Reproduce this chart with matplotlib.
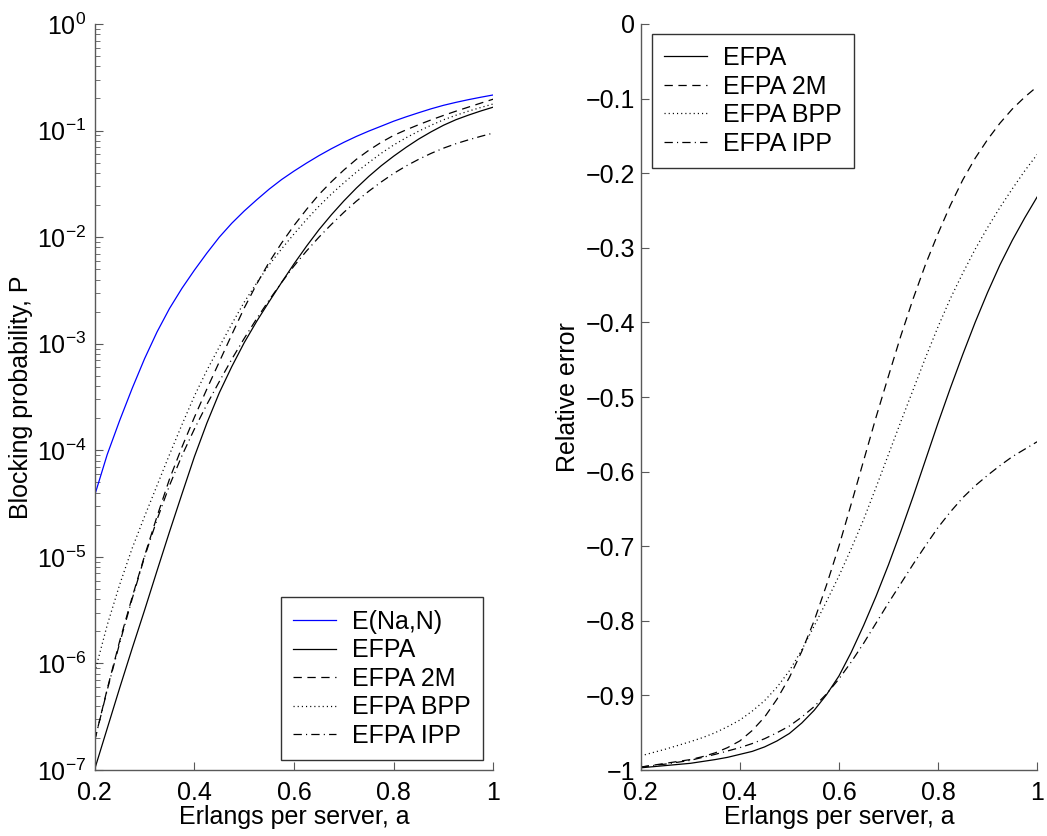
import matplotlib
matplotlib.use("Agg")
import matplotlib.pyplot as plt
from matplotlib.ticker import NullFormatter, FixedLocator

plt.rcParams['font.family'] = ['Liberation Sans', 'DejaVu Sans']
plt.rcParams['font.size'] = 18
plt.rcParams['mathtext.fontset'] = 'custom'
plt.rcParams['mathtext.rm'] = 'Liberation Sans'
plt.rcParams['mathtext.it'] = 'Liberation Sans:italic'
plt.rcParams['mathtext.default'] = 'regular'
plt.rcParams['lines.scale_dashes'] = False

# erlangs per server
a = [0.2, 0.225, 0.25, 0.275, 0.3, 0.325, 0.35, 0.375, 0.4, 0.425, 0.45,
     0.475, 0.5, 0.525, 0.55, 0.575, 0.6, 0.625, 0.65, 0.675, 0.7, 0.725,
     0.75, 0.775, 0.8, 0.825, 0.85, 0.875, 0.9, 0.925, 0.95, 0.975, 1.0]

# blocking probabilities (left panel)
p_erlang = [3.80e-5, 9.12e-5, 1.905e-4, 3.80e-4, 7.24e-4, 1.29e-3, 2.14e-3, 3.31e-3, 4.90e-3,
            7.08e-3, 1.00e-2, 1.35e-2, 1.76e-2, 2.24e-2, 2.82e-2, 3.47e-2, 4.17e-2, 4.95e-2,
            5.82e-2, 6.76e-2, 7.76e-2, 8.81e-2, 9.89e-2, 0.110, 0.1225, 0.1346, 0.147,
            0.160, 0.1726, 0.184, 0.195, 0.2056, 0.216]
p_efpa = [1.023e-7, 2.455e-7, 5.888e-7, 1.380e-6, 3.162e-6, 7.413e-6, 1.718e-5, 3.890e-5,
          8.710e-5, 1.799e-4, 3.467e-4, 6.095e-4, 1.023e-3, 1.622e-3, 2.483e-3, 3.758e-3,
          5.623e-3, 8.222e-3, 1.175e-2, 1.622e-2, 2.188e-2, 2.884e-2, 3.715e-2, 4.677e-2,
          5.754e-2, 6.966e-2, 8.318e-2, 9.727e-2, 0.1122, 0.1265, 0.1396, 0.1528, 0.1660]
p_2m = [1.905e-7, 5.754e-7, 1.622e-6, 4.169e-6, 1.023e-5, 2.399e-5, 5.370e-5, 1.072e-4,
        2.042e-4, 3.758e-4, 6.761e-4, 1.216e-3, 2.163e-3, 3.631e-3, 5.821e-3, 8.810e-3,
        1.288e-2, 1.820e-2, 2.512e-2, 3.311e-2, 4.266e-2, 5.370e-2, 6.531e-2, 7.762e-2,
        9.016e-2, 0.1016, 0.1135, 0.1259, 0.1387, 0.1521, 0.1660, 0.1811, 0.1972]
p_bpp = [8.318e-7, 2.291e-6, 5.495e-6, 1.202e-5, 2.399e-5, 4.677e-5, 9.120e-5, 1.738e-4,
         3.236e-4, 5.623e-4, 9.333e-4, 1.531e-3, 2.455e-3, 3.715e-3, 5.495e-3, 7.762e-3,
         1.072e-2, 1.462e-2, 1.950e-2, 2.541e-2, 3.236e-2, 4.074e-2, 5.012e-2, 6.124e-2,
         7.328e-2, 8.570e-2, 9.863e-2, 0.1122, 0.1262, 0.1393, 0.1521, 0.1648, 0.1778]
p_ipp = [1.905e-7, 5.623e-7, 1.549e-6, 4.027e-6, 1.000e-5, 2.239e-5, 4.677e-5, 8.913e-5,
         1.585e-4, 2.692e-4, 4.416e-4, 7.161e-4, 1.122e-3, 1.718e-3, 2.570e-3, 3.758e-3,
         5.370e-3, 7.413e-3, 1.000e-2, 1.318e-2, 1.710e-2, 2.173e-2, 2.698e-2, 3.296e-2,
         3.963e-2, 4.656e-2, 5.370e-2, 6.109e-2, 6.839e-2, 7.534e-2, 8.185e-2, 8.831e-2, 9.484e-2]

# relative errors (right panel)
rel_efpa = [-0.997, -0.9955, -0.994, -0.9925, -0.991, -0.9885, -0.986, -0.983, -0.979,
            -0.975, -0.969, -0.961, -0.951, -0.937, -0.920, -0.899, -0.874, -0.842,
            -0.806, -0.767, -0.725, -0.680, -0.633, -0.584, -0.535, -0.488, -0.443,
            -0.400, -0.360, -0.323, -0.290, -0.260, -0.232]
rel_2m = [-0.996, -0.9935, -0.991, -0.9885, -0.986, -0.982, -0.977, -0.970, -0.961,
          -0.947, -0.929, -0.905, -0.876, -0.841, -0.800, -0.752, -0.700, -0.643,
          -0.585, -0.527, -0.472, -0.418, -0.368, -0.322, -0.281, -0.243, -0.209,
          -0.180, -0.155, -0.133, -0.114, -0.098, -0.084]
rel_bpp = [-0.981, -0.9765, -0.972, -0.967, -0.962, -0.9565, -0.950, -0.942, -0.933,
           -0.921, -0.907, -0.889, -0.867, -0.839, -0.807, -0.774, -0.740, -0.703,
           -0.664, -0.621, -0.577, -0.533, -0.490, -0.447, -0.406, -0.368, -0.334,
           -0.302, -0.273, -0.246, -0.221, -0.197, -0.175]
rel_ipp = [-0.996, -0.994, -0.992, -0.9895, -0.987, -0.983, -0.979, -0.9745, -0.970,
           -0.9645, -0.958, -0.950, -0.941, -0.929, -0.915, -0.898, -0.878, -0.855,
           -0.830, -0.803, -0.776, -0.750, -0.724, -0.699, -0.675, -0.654, -0.635,
           -0.619, -0.605, -0.592, -0.580, -0.570, -0.560]

x_ticks = [0.2, 0.4, 0.6, 0.8, 1.0]
x_labels = ['0.2', '0.4', '0.6', '0.8', '1']
p_ticks = [1e-7, 1e-6, 1e-5, 1e-4, 1e-3, 1e-2, 1e-1, 1e0]
p_labels = [r'$10^{-7}$', r'$10^{-6}$', r'$10^{-5}$', r'$10^{-4}$', r'$10^{-3}$',
            r'$10^{-2}$', r'$10^{-1}$', r'$10^{0}$']
rel_ticks = [0, -0.1, -0.2, -0.3, -0.4, -0.5, -0.6, -0.7, -0.8, -0.9, -1]
rel_labels = ['0', '\u22120.1', '\u22120.2', '\u22120.3', '\u22120.4', '\u22120.5',
              '\u22120.6', '\u22120.7', '\u22120.8', '\u22120.9', '\u22121']

# minor log ticks 2..9 inside each decade
p_minor = [m * d for d in p_ticks[:-1] for m in range(2, 10)]

lw = 0.9
dash = (0, (6, 4))
dot = (0, (0.8, 2.2))
dashdot = (0, (6, 3, 0.8, 3))

fig = plt.figure(figsize=(10.47, 8.36), dpi=100)
ax1 = fig.add_axes([0.0905, 0.0789, 0.3807, 0.8924])
ax2 = fig.add_axes([0.612, 0.0789, 0.3785, 0.8924])

def style(ax, ypad):
    for s in ['top', 'right']:
        ax.spines[s].set_visible(False)
    for s in ['left', 'bottom']:
        ax.spines[s].set_color('0.35')
        ax.spines[s].set_linewidth(1.0)
    ax.tick_params(which='both', direction='in', color='0.35', labelsize=18)
    ax.tick_params(axis='x', pad=8)
    ax.tick_params(axis='y', pad=ypad)
    ax.tick_params(which='major', length=6)
    ax.tick_params(which='minor', length=3.5)
    ax.xaxis.set_label_coords(0.5, -0.0465)
    ax.yaxis.set_label_coords(-0.154, 0.5)

legend_kw = dict(fontsize=18, frameon=True, fancybox=False, edgecolor='black',
                 handlelength=1.7, handletextpad=0.65, labelspacing=0.18,
                 borderpad=0.5, borderaxespad=0)

# left: blocking probability
ax1.plot(a, p_erlang, color='blue', lw=lw, label='E(Na,N)')
ax1.plot(a, p_efpa, color='black', lw=lw, label='EFPA')
ax1.plot(a, p_2m, color='black', lw=lw, linestyle=dash, label='EFPA 2M')
ax1.plot(a, p_bpp, color='black', lw=lw, linestyle=dot, label='EFPA BPP')
ax1.plot(a, p_ipp, color='black', lw=lw, linestyle=dashdot, label='EFPA IPP')
ax1.set_yscale('log')
ax1.set_xlim(0.2, 1)
ax1.set_ylim(1e-7, 1)
ax1.yaxis.set_major_locator(FixedLocator(p_ticks))
ax1.set_yticklabels(p_labels)
ax1.yaxis.set_minor_locator(FixedLocator(p_minor))
ax1.yaxis.set_minor_formatter(NullFormatter())
ax1.set_xticks(x_ticks)
ax1.set_xticklabels(x_labels)
ax1.set_xlabel('Erlangs per server, a', fontsize=18)
ax1.set_ylabel('Blocking probability, P', fontsize=18)
style(ax1, 6)
leg1 = ax1.legend(loc='lower right', bbox_to_anchor=(0.975, 0.013), **legend_kw)
leg1.get_frame().set_linewidth(1.0)

# right: relative error
ax2.plot(a, rel_efpa, color='black', lw=lw, label='EFPA')
ax2.plot(a, rel_2m, color='black', lw=lw, linestyle=dash, label='EFPA 2M')
ax2.plot(a, rel_bpp, color='black', lw=lw, linestyle=dot, label='EFPA BPP')
ax2.plot(a, rel_ipp, color='black', lw=lw, linestyle=dashdot, label='EFPA IPP')
ax2.set_xlim(0.2, 1)
ax2.set_ylim(-1, 0)
ax2.set_xticks(x_ticks)
ax2.set_xticklabels(x_labels)
ax2.yaxis.set_major_locator(FixedLocator(rel_ticks))
ax2.set_yticklabels(rel_labels)
ax2.set_xlabel('Erlangs per server, a', fontsize=18)
ax2.set_ylabel('Relative error', fontsize=18)
style(ax2, 4)
leg2 = ax2.legend(loc='upper left', bbox_to_anchor=(0.028, 0.987), **legend_kw)
leg2.get_frame().set_linewidth(1.0)

fig.savefig('out.png', dpi=100)
